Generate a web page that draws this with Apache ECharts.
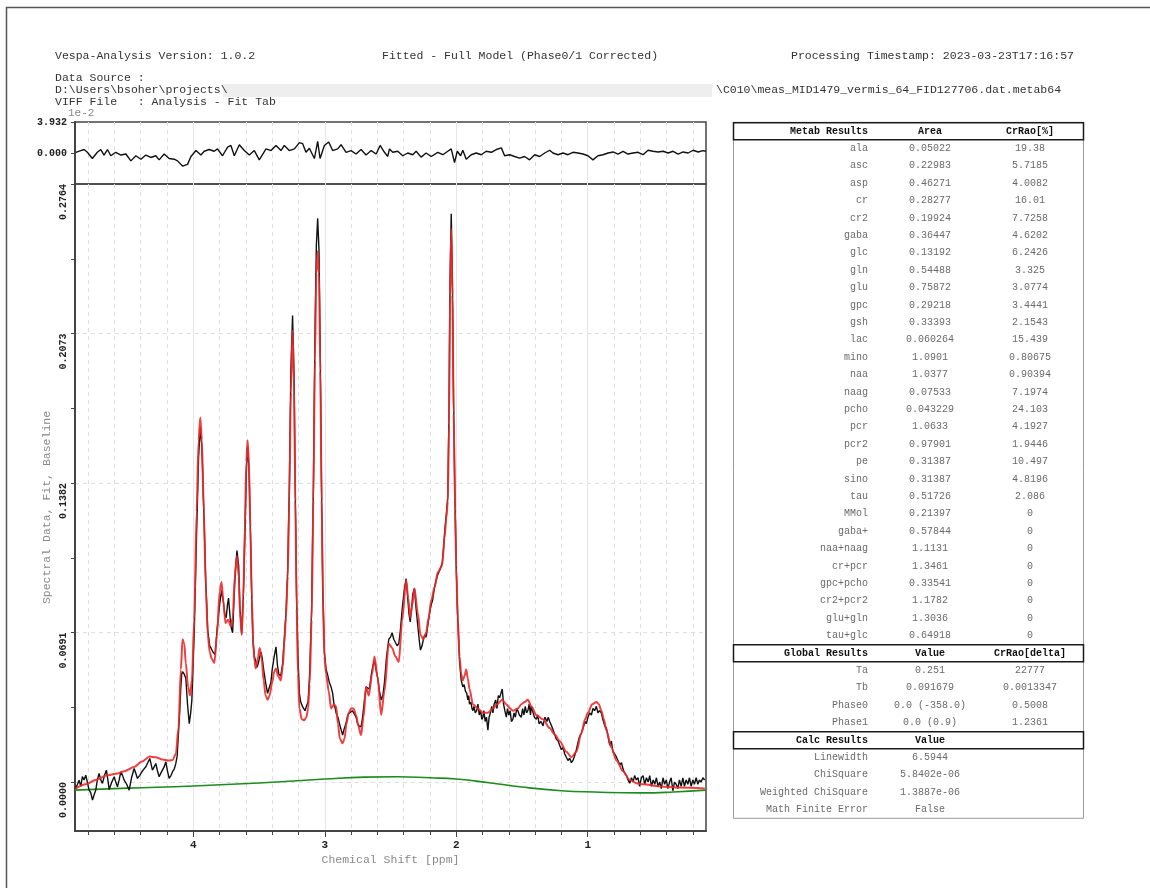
<!DOCTYPE html>
<html><head><meta charset="utf-8">
<script src="https://cdn.jsdelivr.net/npm/echarts@6/dist/echarts.min.js"></script>
<style>html,body{margin:0;padding:0;background:#fff;}#chart{width:1150px;height:888px;}</style>
</head><body><div id="chart"></div>
<script>
const FONT = '"Liberation Mono", "DejaVu Sans Mono", monospace';

// ---- header texts ----
const titleLeft = 'Vespa-Analysis Version: 1.0.2';
const titleMid = 'Fitted - Full Model (Phase0/1 Corrected)';
const titleRight = 'Processing Timestamp: 2023-03-23T17:16:57';
const srcLabel = 'Data Source :';
const srcPathA = 'D:\\Users\\bsoher\\projects\\';
const srcPathB = '\\C010\\meas_MID1479_vermis_64_FID127706.dat.metab64';
const viffLine = 'VIFF File   : Analysis - Fit Tab';
const resMultiplier = '1e-2';

// ---- axis ticks ----
const xLabelValues = [1, 2, 3, 4];
const yMainLabels = [0, 0.0691, 0.1382, 0.2073, 0.2764];
const yMainMinor = [0.03455, 0.10365, 0.17275, 0.24185];
const yResLabels = [0, 3.932];

// ---- residual (units of 1e-2) ----
const residualCurve = [[4.894,0.09],[4.856,0.31],[4.831,0.44],[4.806,0.09],[4.768,-0.70],[4.730,0.09],[4.704,0.44],[4.679,-0.26],[4.653,0.44],[4.628,-0.35],[4.590,0.09],[4.551,-0.26],[4.513,-0.13],[4.475,-1.0],[4.437,-0.35],[4.399,-0.79],[4.361,-0.26],[4.323,-0.57],[4.285,-0.35],[4.260,-0.87],[4.222,-0.13],[4.209,0.09],[4.184,-0.70],[4.145,-0.79],[4.120,-1.0],[4.082,-1.66],[4.044,-1.44],[4.018,-0.44],[3.980,0.31],[3.942,-0.26],[3.917,0.22],[3.879,0.44],[3.841,0.22],[3.816,0.52],[3.778,-0.35],[3.739,0.74],[3.714,0.96],[3.688,-0.35],[3.650,1.05],[3.612,0.31],[3.574,-0.26],[3.536,0.31],[3.498,-0.87],[3.447,0.52],[3.409,0.31],[3.371,0.96],[3.333,0.31],[3.308,0.96],[3.270,0.31],[3.231,0.52],[3.193,1.31],[3.168,1.18],[3.143,0.09],[3.117,0.61],[3.079,-0.70],[3.054,1.48],[3.036,-0.70],[3.003,0.96],[2.970,1.40],[2.940,0.31],[2.902,0.52],[2.876,1.05],[2.838,0.09],[2.800,0.31],[2.762,-0.13],[2.724,0.44],[2.686,-0.26],[2.647,0.31],[2.609,-0.13],[2.579,0.96],[2.546,0.09],[2.521,-0.44],[2.508,0.52],[2.483,0.09],[2.445,0.22],[2.407,-0.35],[2.369,0.0],[2.331,-0.22],[2.305,0.22],[2.267,-0.52],[2.229,0.0],[2.190,-0.44],[2.140,0.09],[2.102,-0.22],[2.064,0.22],[2.038,0.52],[2.013,-1.22],[1.992,0.22],[1.967,-0.35],[1.950,0.35],[1.924,-0.79],[1.886,-0.22],[1.848,0.0],[1.810,-0.22],[1.772,0.22],[1.733,0.09],[1.695,0.44],[1.657,0.65],[1.632,-0.35],[1.594,-0.22],[1.556,-0.44],[1.518,-0.65],[1.480,-0.44],[1.442,-0.87],[1.403,-0.22],[1.365,-0.44],[1.327,0.0],[1.289,0.35],[1.264,0.0],[1.226,-0.22],[1.188,0.0],[1.150,-0.22],[1.112,0.09],[1.074,0.0],[1.036,-0.13],[0.998,-0.35],[0.960,-0.87],[0.922,-0.35],[0.883,-0.22],[0.845,0.0],[0.807,0.13],[0.769,-0.13],[0.731,0.22],[0.693,-0.13],[0.655,0.0],[0.617,0.09],[0.579,-0.22],[0.541,0.35],[0.503,0.22],[0.465,0.13],[0.426,0.22],[0.388,0.0],[0.350,0.22],[0.312,-0.13],[0.274,0.13],[0.236,0.0],[0.198,0.35],[0.160,0.13],[0.122,0.31],[0.101,0.22]];

// ---- fitted model (red) ----
const fitCurve = [[4.894,-0.003],[4.818,-0.001],[4.742,0.001],[4.661,0.003],[4.577,0.004],[4.526,0.005],[4.450,0.007],[4.391,0.0095],[4.331,0.0118],[4.285,0.0115],[4.235,0.0105],[4.184,0.0100],[4.158,0.0102],[4.133,0.013],[4.113,0.025],[4.095,0.052],[4.082,0.066],[4.069,0.064],[4.057,0.055],[4.040,0.044],[4.025,0.040],[4.011,0.047],[3.993,0.075],[3.975,0.125],[3.960,0.158],[3.947,0.1685],[3.935,0.158],[3.920,0.125],[3.905,0.090],[3.890,0.068],[3.875,0.060],[3.860,0.057],[3.840,0.055],[3.820,0.068],[3.800,0.088],[3.785,0.0925],[3.770,0.082],[3.755,0.0735],[3.735,0.075],[3.715,0.072],[3.700,0.076],[3.685,0.095],[3.668,0.1045],[3.655,0.095],[3.645,0.078],[3.632,0.068],[3.620,0.085],[3.608,0.118],[3.597,0.148],[3.587,0.158],[3.577,0.148],[3.566,0.118],[3.555,0.085],[3.545,0.065],[3.535,0.056],[3.525,0.0525],[3.510,0.057],[3.495,0.062],[3.480,0.057],[3.465,0.047],[3.450,0.040],[3.435,0.038],[3.420,0.040],[3.400,0.046],[3.385,0.051],[3.371,0.0525],[3.355,0.049],[3.335,0.047],[3.320,0.053],[3.308,0.064],[3.295,0.0765],[3.282,0.095],[3.270,0.130],[3.258,0.180],[3.245,0.2087],[3.234,0.185],[3.224,0.130],[3.214,0.080],[3.204,0.050],[3.193,0.034],[3.175,0.029],[3.155,0.0286],[3.140,0.030],[3.127,0.034],[3.115,0.045],[3.100,0.075],[3.087,0.130],[3.075,0.195],[3.064,0.235],[3.054,0.2453],[3.044,0.235],[3.034,0.190],[3.024,0.130],[3.014,0.085],[3.003,0.058],[2.990,0.050],[2.970,0.042],[2.952,0.034],[2.930,0.036],[2.914,0.035],[2.900,0.027],[2.885,0.020],[2.864,0.0179],[2.850,0.020],[2.835,0.027],[2.818,0.032],[2.800,0.034],[2.781,0.034],[2.762,0.031],[2.745,0.026],[2.724,0.0217],[2.705,0.030],[2.686,0.044],[2.665,0.040],[2.640,0.050],[2.622,0.058],[2.597,0.048],[2.571,0.031],[2.546,0.042],[2.513,0.064],[2.488,0.062],[2.462,0.058],[2.437,0.0555],[2.411,0.075],[2.381,0.0933],[2.365,0.085],[2.350,0.076],[2.334,0.082],[2.318,0.0895],[2.292,0.078],[2.272,0.068],[2.250,0.066],[2.229,0.069],[2.210,0.076],[2.190,0.084],[2.165,0.090],[2.140,0.097],[2.107,0.100],[2.089,0.113],[2.075,0.122],[2.064,0.130],[2.055,0.165],[2.047,0.225],[2.038,0.2556],[2.029,0.225],[2.020,0.170],[2.008,0.125],[2.000,0.099],[1.988,0.075],[1.975,0.058],[1.962,0.050],[1.950,0.047],[1.937,0.049],[1.924,0.052],[1.912,0.048],[1.899,0.043],[1.873,0.036],[1.835,0.034],[1.797,0.032],[1.759,0.032],[1.721,0.034],[1.690,0.036],[1.650,0.038],[1.619,0.036],[1.590,0.034],[1.569,0.033],[1.531,0.034],[1.505,0.036],[1.480,0.037],[1.455,0.038],[1.429,0.035],[1.391,0.031],[1.340,0.029],[1.289,0.025],[1.251,0.022],[1.213,0.019],[1.162,0.014],[1.124,0.0115],[1.086,0.014],[1.048,0.0226],[1.020,0.029],[0.998,0.032],[0.966,0.036],[0.934,0.037],[0.915,0.036],[0.896,0.033],[0.877,0.029],[0.858,0.024],[0.820,0.016],[0.781,0.010],[0.731,0.005],[0.680,0.001],[0.630,-0.0005],[0.579,-0.001],[0.452,-0.002],[0.300,-0.0025],[0.109,-0.003]];

// ---- spectral data (black) ----
const dataCurve = [[4.894,-0.0029],[4.881,-0.001],[4.869,0.0009],[4.856,-0.002],[4.844,0.0025],[4.831,0.001],[4.818,0.0032],[4.806,0.000],[4.793,-0.0037],[4.780,-0.005],[4.767,-0.0083],[4.755,-0.006],[4.742,-0.0037],[4.730,0.001],[4.717,0.004],[4.704,0.001],[4.691,-0.0006],[4.676,0.003],[4.661,0.0055],[4.650,0.001],[4.640,-0.0034],[4.620,0.000],[4.602,0.0025],[4.590,0.000],[4.577,-0.0022],[4.564,0.001],[4.551,0.0048],[4.538,0.003],[4.526,0.0009],[4.507,-0.001],[4.488,-0.0037],[4.470,0.002],[4.450,0.0063],[4.437,0.004],[4.425,0.0017],[4.408,0.003],[4.391,0.0048],[4.376,0.006],[4.361,0.0071],[4.346,0.008],[4.331,0.0109],[4.320,0.008],[4.311,0.0055],[4.298,0.007],[4.285,0.0086],[4.272,0.005],[4.260,0.0025],[4.248,0.004],[4.235,0.0055],[4.222,0.007],[4.209,0.0094],[4.196,0.005],[4.184,0.0017],[4.170,0.003],[4.158,0.0048],[4.145,0.006],[4.133,0.0086],[4.123,0.012],[4.113,0.0225],[4.104,0.032],[4.095,0.044],[4.088,0.050],[4.082,0.051],[4.070,0.050],[4.057,0.048],[4.044,0.036],[4.031,0.027],[4.020,0.032],[4.011,0.038],[3.993,0.069],[3.975,0.115],[3.960,0.150],[3.947,0.164],[3.935,0.155],[3.920,0.125],[3.905,0.092],[3.890,0.070],[3.875,0.063],[3.866,0.062],[3.850,0.060],[3.834,0.059],[3.820,0.070],[3.800,0.082],[3.785,0.0886],[3.770,0.083],[3.760,0.077],[3.750,0.076],[3.740,0.082],[3.732,0.085],[3.720,0.076],[3.710,0.071],[3.701,0.069],[3.690,0.085],[3.680,0.098],[3.668,0.107],[3.655,0.100],[3.645,0.080],[3.632,0.0686],[3.620,0.085],[3.608,0.113],[3.597,0.143],[3.587,0.155],[3.577,0.146],[3.566,0.117],[3.555,0.084],[3.545,0.064],[3.535,0.058],[3.526,0.056],[3.515,0.053],[3.505,0.055],[3.495,0.058],[3.485,0.060],[3.475,0.057],[3.465,0.052],[3.450,0.046],[3.435,0.041],[3.425,0.043],[3.410,0.046],[3.400,0.052],[3.385,0.058],[3.371,0.0625],[3.360,0.054],[3.350,0.050],[3.335,0.049],[3.320,0.055],[3.308,0.066],[3.295,0.078],[3.282,0.098],[3.270,0.135],[3.258,0.190],[3.245,0.2156],[3.234,0.188],[3.224,0.132],[3.214,0.085],[3.204,0.058],[3.193,0.041],[3.183,0.037],[3.170,0.035],[3.160,0.034],[3.150,0.033],[3.140,0.035],[3.127,0.037],[3.115,0.050],[3.100,0.080],[3.087,0.135],[3.075,0.205],[3.064,0.248],[3.054,0.2605],[3.044,0.246],[3.034,0.196],[3.024,0.132],[3.014,0.086],[3.003,0.060],[2.990,0.052],[2.980,0.050],[2.965,0.046],[2.952,0.044],[2.940,0.041],[2.930,0.036],[2.920,0.034],[2.914,0.032],[2.900,0.030],[2.888,0.027],[2.875,0.024],[2.864,0.0217],[2.855,0.024],[2.845,0.026],[2.835,0.028],[2.825,0.031],[2.812,0.032],[2.800,0.0325],[2.790,0.033],[2.781,0.033],[2.770,0.031],[2.762,0.030],[2.750,0.027],[2.740,0.026],[2.724,0.0255],[2.712,0.030],[2.700,0.037],[2.686,0.044],[2.673,0.0448],[2.660,0.043],[2.645,0.050],[2.633,0.054],[2.622,0.056],[2.610,0.052],[2.597,0.048],[2.584,0.042],[2.571,0.038],[2.558,0.040],[2.546,0.046],[2.530,0.058],[2.513,0.066],[2.500,0.067],[2.488,0.069],[2.475,0.066],[2.462,0.066],[2.450,0.063],[2.437,0.064],[2.425,0.070],[2.411,0.080],[2.395,0.089],[2.381,0.094],[2.370,0.086],[2.360,0.078],[2.350,0.074],[2.340,0.080],[2.330,0.087],[2.318,0.0895],[2.305,0.080],[2.292,0.072],[2.282,0.066],[2.272,0.061],[2.260,0.063],[2.250,0.066],[2.240,0.068],[2.229,0.067],[2.215,0.073],[2.200,0.079],[2.190,0.082],[2.180,0.084],[2.165,0.090],[2.150,0.094],[2.140,0.096],[2.125,0.098],[2.107,0.101],[2.095,0.109],[2.089,0.115],[2.075,0.124],[2.064,0.132],[2.055,0.170],[2.047,0.232],[2.038,0.2626],[2.029,0.232],[2.020,0.175],[2.008,0.125],[2.000,0.099],[1.988,0.075],[1.975,0.056],[1.962,0.047],[1.950,0.044],[1.940,0.045],[1.930,0.042],[1.920,0.041],[1.912,0.038],[1.905,0.040],[1.899,0.036],[1.888,0.037],[1.880,0.034],[1.873,0.033],[1.865,0.035],[1.855,0.032],[1.845,0.033],[1.835,0.036],[1.825,0.031],[1.815,0.033],[1.805,0.029],[1.797,0.030],[1.790,0.033],[1.780,0.028],[1.770,0.030],[1.759,0.024],[1.750,0.030],[1.740,0.032],[1.730,0.035],[1.721,0.032],[1.712,0.036],[1.700,0.038],[1.690,0.034],[1.680,0.040],[1.670,0.039],[1.660,0.041],[1.650,0.043],[1.640,0.036],[1.630,0.033],[1.619,0.030],[1.610,0.034],[1.600,0.031],[1.590,0.033],[1.580,0.028],[1.569,0.029],[1.560,0.032],[1.550,0.030],[1.540,0.034],[1.531,0.033],[1.520,0.031],[1.505,0.030],[1.495,0.034],[1.485,0.031],[1.475,0.035],[1.465,0.032],[1.455,0.033],[1.445,0.036],[1.435,0.031],[1.429,0.035],[1.415,0.032],[1.405,0.030],[1.391,0.029],[1.380,0.031],[1.370,0.027],[1.355,0.028],[1.340,0.026],[1.325,0.030],[1.310,0.028],[1.300,0.030],[1.289,0.028],[1.275,0.026],[1.262,0.024],[1.251,0.022],[1.240,0.020],[1.225,0.019],[1.213,0.017],[1.200,0.015],[1.187,0.016],[1.175,0.013],[1.162,0.013],[1.150,0.010],[1.137,0.011],[1.124,0.009],[1.112,0.010],[1.100,0.012],[1.086,0.015],[1.075,0.018],[1.062,0.021],[1.048,0.0226],[1.035,0.025],[1.020,0.028],[1.010,0.027],[0.998,0.030],[0.985,0.032],[0.972,0.031],[0.960,0.034],[0.947,0.033],[0.934,0.035],[0.922,0.032],[0.910,0.033],[0.896,0.032],[0.885,0.029],[0.870,0.026],[0.858,0.025],[0.845,0.021],[0.832,0.017],[0.820,0.019],[0.808,0.014],[0.795,0.013],[0.781,0.0115],[0.770,0.010],[0.755,0.008],[0.743,0.009],[0.731,0.006],[0.718,0.004],[0.705,0.003],[0.693,0.001],[0.680,-0.0005],[0.667,0.002],[0.655,0.000],[0.643,0.003],[0.630,0.001],[0.617,0.002],[0.605,-0.002],[0.592,0.002],[0.579,0.003],[0.566,-0.001],[0.553,0.002],[0.540,0.000],[0.528,0.003],[0.515,-0.002],[0.502,0.001],[0.490,-0.001],[0.477,0.002],[0.465,-0.002],[0.452,0.000],[0.440,-0.003],[0.427,0.002],[0.415,-0.001],[0.402,0.001],[0.390,-0.003],[0.377,0.000],[0.365,0.002],[0.352,-0.004],[0.340,0.000],[0.327,-0.001],[0.314,-0.003],[0.302,0.001],[0.289,-0.002],[0.276,0.002],[0.264,-0.002],[0.251,0.001],[0.238,-0.001],[0.226,0.002],[0.213,-0.002],[0.200,0.001],[0.188,-0.001],[0.175,0.002],[0.162,-0.001],[0.150,0.001],[0.137,0.000],[0.124,0.002],[0.110,0.001]];

// ---- baseline (green) ----
const baselineCurve = [[4.9,-0.0037],[4.5,-0.0028],[4.0,-0.0018],[3.5,-0.0004],[3.0,0.0014],[2.7,0.0023],[2.45,0.0025],[2.2,0.002],[2.0,0.0014],[1.75,-0.0003],[1.5,-0.0023],[1.2,-0.004],[0.95,-0.0046],[0.6,-0.005],[0.35,-0.0046],[0.1,-0.0037]];

// ---- results table ----
const metabHeader = ['Metab Results', 'Area', 'CrRao[%]'];
const metabNames = ['ala','asc','asp','cr','cr2','gaba','glc','gln','glu','gpc','gsh','lac','mino','naa','naag','pcho','pcr','pcr2','pe','sino','tau','MMol','gaba+','naa+naag','cr+pcr','gpc+pcho','cr2+pcr2','glu+gln','tau+glc'];
const metabArea = ['0.05022','0.22983','0.46271','0.28277','0.19924','0.36447','0.13192','0.54488','0.75872','0.29218','0.33393','0.060264','1.0901','1.0377','0.07533','0.043229','1.0633','0.97901','0.31387','0.31387','0.51726','0.21397','0.57844','1.1131','1.3461','0.33541','1.1782','1.3036','0.64918'];
const metabCrRao = ['19.38','5.7185','4.0082','16.01','7.7258','4.6202','6.2426','3.325','3.0774','3.4441','2.1543','15.439','0.80675','0.90394','7.1974','24.103','4.1927','1.9446','10.497','4.8196','2.086','0','0','0','0','0','0','0','0'];
const globalHeader = ['Global Results', 'Value', 'CrRao[delta]'];
const globalNames = ['Ta','Tb','Phase0','Phase1'];
const globalValues = ['0.251','0.091679','0.0 (-358.0)','0.0 (0.9)'];
const globalCrRao = ['22777','0.0013347','0.5008','1.2361'];
const calcHeader = ['Calc Results', 'Value', ''];
const calcNames = ['Linewidth','ChiSquare','Weighted ChiSquare','Math Finite Error'];
const calcValues = ['6.5944','5.8402e-06','1.3887e-06','False'];

// ---------- build ----------
const xMinorTicks = [];
for (let k = 2; k <= 48; k += 2) xMinorTicks.push(k / 10);

function txt(x, y, text, st) {
  return { type: 'text', x: x, y: y, silent: true, z: 100,
    style: Object.assign({ text: text, fill: '#333', font: '11.5px ' + FONT,
      align: 'left', verticalAlign: 'middle', textAlign: 'left', textVerticalAlign: 'middle' }, st || {}) };
}

const graphics = [];
// page frame
graphics.push({ type: 'rect', silent: true, z: 1, shape: { x: 6.5, y: 7.5, width: 1200, height: 1000 },
  style: { fill: 'none', stroke: '#555', lineWidth: 1.5 } });
// header
graphics.push(txt(55, 56, titleLeft));
graphics.push(txt(382, 56, titleMid));
graphics.push(txt(791, 56, titleRight));
graphics.push(txt(55, 78, srcLabel));
graphics.push({ type: 'rect', silent: true, z: 90, shape: { x: 223, y: 84, width: 489, height: 13 }, style: { fill: '#eeeeee' } });
graphics.push(txt(55, 90, srcPathA));
graphics.push(txt(716, 90, srcPathB));
graphics.push(txt(55, 102, viffLine));
graphics.push(txt(68, 113, resMultiplier, { fill: '#888', font: '11px ' + FONT }));

// table
const ROW0 = 131, PITCH = 17.4;
const TX = 733, TW = 350;
const C1 = 868, C2 = 930, C3 = 1030;
graphics.push({ type: 'rect', silent: true, z: 95, shape: { x: TX + 0.5, y: ROW0 - PITCH / 2, width: TW, height: PITCH * 40 },
  style: { fill: 'none', stroke: '#9a9a9a', lineWidth: 1 } });
const cellFont = '10px ' + FONT;
const headFont = 'bold 10px ' + FONT;
function headerRow(i, cols) {
  const y = ROW0 + PITCH * i;
  graphics.push({ type: 'rect', silent: true, z: 96, shape: { x: TX + 0.5, y: y - PITCH / 2 + 0.5, width: TW, height: PITCH - 0.5 },
    style: { fill: '#fff', stroke: '#1a1a1a', lineWidth: 1.5 } });
  graphics.push(txt(C1, y, cols[0], { font: headFont, fill: '#111', align: 'right', textAlign: 'right' }));
  graphics.push(txt(C2, y, cols[1], { font: headFont, fill: '#111', align: 'center', textAlign: 'center' }));
  if (cols[2]) graphics.push(txt(C3, y, cols[2], { font: headFont, fill: '#111', align: 'center', textAlign: 'center' }));
}
function bodyRow(i, a, b, c) {
  const y = ROW0 + PITCH * i;
  graphics.push(txt(C1, y, a, { font: cellFont, fill: '#6a6a6a', align: 'right', textAlign: 'right' }));
  graphics.push(txt(C2, y, b, { font: cellFont, fill: '#6a6a6a', align: 'center', textAlign: 'center' }));
  if (c) graphics.push(txt(C3, y, c, { font: cellFont, fill: '#6a6a6a', align: 'center', textAlign: 'center' }));
}
let row = 0;
headerRow(row++, metabHeader);
metabNames.forEach((n, k) => bodyRow(row++, n, metabArea[k], metabCrRao[k]));
headerRow(row++, globalHeader);
globalNames.forEach((n, k) => bodyRow(row++, n, globalValues[k], globalCrRao[k]));
headerRow(row++, calcHeader);
calcNames.forEach((n, k) => bodyRow(row++, n, calcValues[k], ''));

const dashed = { show: true, lineStyle: { color: '#dedede', width: 1, type: [4, 4] } };
const solid = { show: true, lineStyle: { color: '#e6e6e6', width: 1, type: 'solid' } };
const axisLineStyle = { show: true, onZero: false, lineStyle: { color: '#444', width: 2 } };
const boldLabel = { fontFamily: FONT, fontWeight: 'bold', fontSize: 10, color: '#222' };

function xAx(gridIndex, extra) {
  return Object.assign({ type: 'value', gridIndex: gridIndex, min: 0.1, max: 4.9, inverse: true, position: 'bottom',
    axisLine: { show: false, onZero: false }, axisTick: { show: false }, axisLabel: { show: false }, splitLine: { show: false } }, extra);
}

const option = {
  animation: false,
  backgroundColor: '#ffffff',
  textStyle: { fontFamily: FONT },
  grid: [
    { left: 75, top: 122, width: 631, height: 62, show: true, borderColor: '#444', borderWidth: 1.5, backgroundColor: 'transparent' },
    { left: 75, top: 184, width: 631, height: 647, show: true, borderColor: '#444', borderWidth: 1.5, backgroundColor: 'transparent' }
  ],
  xAxis: [
    xAx(0, { axisTick: { show: false, customValues: xMinorTicks }, splitLine: dashed }),
    xAx(1, {
      name: 'Chemical Shift [ppm]', nameLocation: 'middle', nameGap: 23, nameMoveOverlap: false,
      nameTextStyle: { fontFamily: FONT, fontSize: 11.5, color: '#888' },
      axisLine: axisLineStyle,
      axisTick: { show: true, customValues: xMinorTicks, length: 4, lineStyle: { color: '#444', width: 1 } },
      axisLabel: { show: true, customValues: xLabelValues, margin: 9, formatter: v => String(Math.round(v)), fontFamily: FONT, fontWeight: 'bold', fontSize: 11, color: '#222' },
      splitLine: dashed }),
    xAx(1, { axisTick: { show: true, customValues: xLabelValues, length: 6, lineStyle: { color: '#444', width: 1 } }, splitLine: solid }),
    xAx(0, { axisTick: { show: false, customValues: xLabelValues }, splitLine: solid })
  ],
  yAxis: [
    { type: 'value', gridIndex: 0, min: -3.932, max: 3.932, position: 'left',
      axisLine: axisLineStyle,
      axisTick: { show: true, customValues: yResLabels, length: 4, lineStyle: { color: '#444' } },
      axisLabel: Object.assign({ show: true, customValues: yResLabels, margin: 8, formatter: v => v.toFixed(3) }, boldLabel),
      splitLine: { show: false } },
    { type: 'value', gridIndex: 1, min: -0.0226, max: 0.2764, position: 'left',
      name: 'Spectral Data, Fit, Baseline', nameLocation: 'middle', nameGap: 22, nameRotate: 90, nameMoveOverlap: false,
      nameTextStyle: { fontFamily: FONT, fontSize: 11.5, color: '#888' },
      axisLine: axisLineStyle,
      axisTick: { show: true, customValues: yMainLabels.concat(yMainMinor), length: 4, lineStyle: { color: '#444' } },
      axisLabel: Object.assign({ show: true, customValues: yMainLabels, rotate: 90, align: 'right', verticalAlign: 'bottom', margin: 7,
        formatter: v => v.toFixed(4) }, boldLabel),
      splitLine: { show: false } },
    { type: 'value', gridIndex: 1, min: -0.0226, max: 0.2764, position: 'left',
      axisLine: { show: false, onZero: false }, axisTick: { show: false, customValues: yMainLabels.slice(0, 4) }, axisLabel: { show: false },
      splitLine: dashed }
  ],
  graphic: { elements: graphics },
  series: [
    { type: 'line', name: 'residual', xAxisIndex: 0, yAxisIndex: 0, data: residualCurve, symbol: 'none', silent: true,
      lineStyle: { color: '#111', width: 1.4 } },
    { type: 'line', name: 'baseline', xAxisIndex: 1, yAxisIndex: 1, data: baselineCurve, symbol: 'none', smooth: 0.5, silent: true,
      lineStyle: { color: '#1c8c1c', width: 1.6 } },
    { type: 'line', name: 'data', xAxisIndex: 1, yAxisIndex: 1, data: dataCurve, symbol: 'none', silent: true,
      lineStyle: { color: '#111', width: 1.4 } },
    { type: 'line', name: 'fit', xAxisIndex: 1, yAxisIndex: 1, data: fitCurve, symbol: 'none', smooth: 0.3, smoothMonotone: 'x', silent: true,
      lineStyle: { color: '#ee2a2a', width: 2, opacity: 0.9 } }
  ]
};
const chart = echarts.init(document.getElementById('chart'), null, { renderer: 'canvas' });
chart.setOption(option);
</script>
</body></html>
